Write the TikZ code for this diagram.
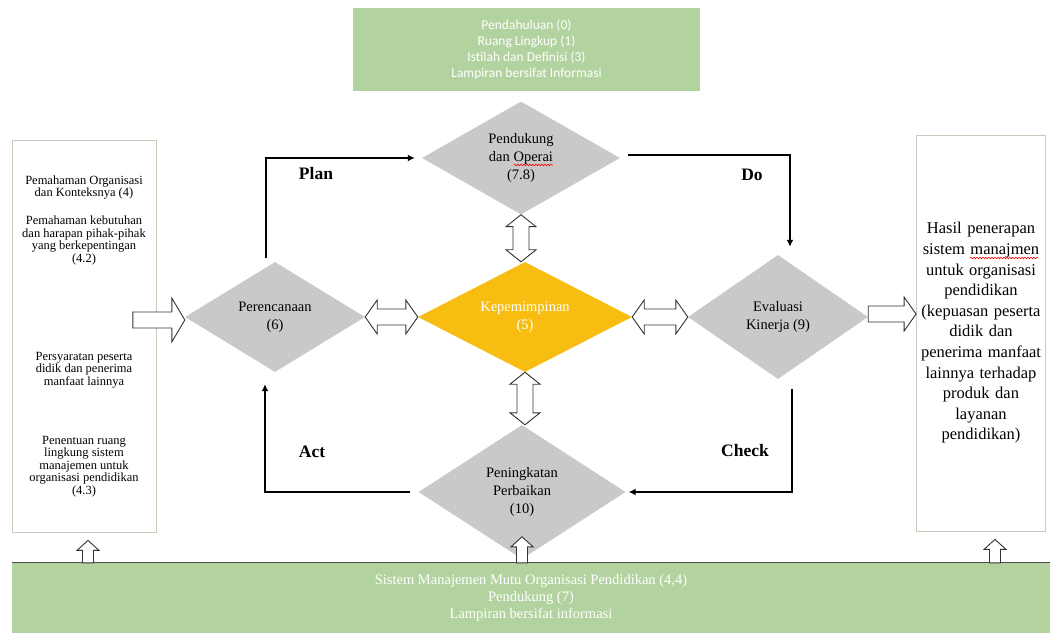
\documentclass[tikz,border=0pt]{standalone}
\usepackage{fontspec}
\setmainfont{Liberation Serif}
\newfontfamily\carl{Carlito}
\usetikzlibrary{shapes.geometric,arrows.meta,calc,decorations.pathmorphing}
\definecolor{boxgreen}{RGB}{178,211,160}
\definecolor{dgray}{RGB}{201,201,201}
\definecolor{gold}{RGB}{247,189,17}
\definecolor{boxline}{RGB}{196,206,186}
% block arrows
\newcommand\dblH[2]{\draw[barrow] let \p1=(#1), \p2=(#2) in
  (\x1,\y1) -- (\x1+12bp,\y1+17bp) -- (\x1+12bp,\y1+8bp) -- (\x2-12bp,\y1+8bp) -- (\x2-12bp,\y1+17bp)
  -- (\x2,\y1) -- (\x2-12bp,\y1-17bp) -- (\x2-12bp,\y1-8bp) -- (\x1+12bp,\y1-8bp) -- (\x1+12bp,\y1-17bp) -- cycle;}
\newcommand\dblV[2]{\draw[barrow] let \p1=(#1), \p2=(#2) in
  (\x1,\y1) -- (\x1+15bp,\y1-12bp) -- (\x1+8bp,\y1-12bp) -- (\x1+8bp,\y2+12bp) -- (\x1+15bp,\y2+12bp)
  -- (\x1,\y2) -- (\x1-15bp,\y2+12bp) -- (\x1-8bp,\y2+12bp) -- (\x1-8bp,\y1-12bp) -- (\x1-15bp,\y1-12bp) -- cycle;}
\newcommand\sglR[5]{\draw[barrow] let \p1=(#1), \p2=(#2) in
  (\x1,\y1+#3) -- (\x2-#5,\y1+#3) -- (\x2-#5,\y1+#4) -- (\x2,\y1) -- (\x2-#5,\y1-#4) -- (\x2-#5,\y1-#3) -- (\x1,\y1-#3) -- cycle;}
\newcommand\sglU[5]{\draw[barrow] let \p1=(#1), \p2=(#2) in
  (\x1-#3,\y1) -- (\x1-#3,\y2-#5) -- (\x1-#4,\y2-#5) -- (\x1,\y2) -- (\x1+#4,\y2-#5) -- (\x1+#3,\y2-#5) -- (\x1+#3,\y1) -- cycle;}
\begin{document}
\begin{tikzpicture}[x=1bp,y=-1bp,
  dia/.style={diamond, inner sep=0pt, align=center, font=\fontsize{14.5bp}{18bp}\selectfont},
  graydia/.style={dia, fill=dgray},
  greenbox/.style={rectangle, fill=boxgreen, text=white, align=center, inner sep=0pt},
  sidebox/.style={rectangle, draw=boxline, line width=0.8bp, fill=white, inner sep=0pt},
  sidetext/.style={align=center, inner sep=0pt, font=\fontsize{12.5bp}{12.5bp}\selectfont},
  flow/.style={line width=1.8bp, -{Latex[length=7bp,width=7bp]}},
  lbl/.style={inner sep=0pt, font=\fontsize{17.5bp}{20bp}\selectfont\bfseries},
  barrow/.style={fill=white, draw=black!80, line width=0.9bp, line join=miter},
  spell/.style={red, line width=0.6bp, decorate, decoration={snake, amplitude=0.8bp, segment length=3bp}}]
\useasboundingbox (0,0) rectangle (1050,633);

% top box
\node[greenbox, minimum width=347bp, minimum height=83bp,
      font=\carl\fontsize{13.5bp}{16bp}\selectfont] (topbox) at (526.5,49.5)
  {Pendahuluan (0)\\Ruang Lingkup (1)\\Istilah dan Definisi (3)\\Lampiran bersifat Informasi};

% side boxes
\node[sidebox, minimum width=144bp, minimum height=392bp] (lbox) at (84,336) {};
\node[sidebox, minimum width=129bp, minimum height=396bp, text width=127bp, align=center,
      font=\fontsize{16.5bp}{20.6bp}\selectfont] (rbox) at (981,333)
  {Hasil penerapan\\sistem manajmen\\untuk organisasi\\pendidikan\\(kepuasan peserta\\didik dan\\penerima manfaat\\lainnya terhadap\\produk dan\\layanan\\pendidikan)};

\node[sidetext] (lt1) at (84,187.5) {Pemahaman Organisasi\\dan Konteksnya (4)};
\node[sidetext] (lt2) at (84,240.5) {Pemahaman kebutuhan\\dan harapan pihak-pihak\\yang berkepentingan\\(4.2)};
\node[sidetext] (lt3) at (84,370) {Persyaratan peserta\\didik dan penerima\\manfaat lainnya};
\node[sidetext] (lt4) at (84,466.5) {Penentuan ruang\\lingkung sistem\\manajemen untuk\\organisasi pendidikan\\(4.3)};

% diamonds
\node[graydia, minimum width=198bp, minimum height=113bp, aspect=1.75] (pend) at (521,158)
  {Pendukung\\dan Operai\\(7.8)};
\node[graydia, minimum width=180bp, minimum height=110bp, aspect=1.64] (pere) at (275,317)
  {Perencanaan\\(6)};
\node[dia, fill=gold, text=white, minimum width=214bp, minimum height=110bp, aspect=1.95] (kep) at (525,317)
  {Kepemimpinan\\(5)};
\node[graydia, minimum width=180bp, minimum height=124bp, aspect=1.45] (eval) at (778,317)
  {Evaluasi\\Kinerja (9)};
\node[graydia, minimum width=207bp, minimum height=134bp, aspect=1.54] (pen) at (522,492)
  {Peningkatan\\Perbaikan\\(10)};

% spell-check squiggles
\draw[spell] (514,165) -- (553,165);
\draw[spell] (970,258) -- (1038,258);

% PDCA connectors
\draw[flow] ([shift={(-9bp,4bp)}]pere.north) |- ([xshift=-7bp]pend.west);
\draw[flow] ([shift={(8bp,3bp)}]pend.east) -| ([shift={(12bp,8bp)}]eval.north);
\draw[flow] ([shift={(14bp,-10bp)}]eval.south) |- ([xshift=3bp]pen.east);
\draw[flow] ([xshift=-8bp]pen.west) -| ([shift={(-10bp,-12bp)}]pere.south);

\node[lbl] (plan) at (316,174) {Plan};
\node[lbl] (do) at (752,175) {Do};
\node[lbl] (act) at (312,452) {Act};
\node[lbl] (check) at (745,451) {Check};

% block arrows
\dblH{pere.east}{kep.west}
\dblH{kep.east}{eval.west}
\dblV{pend.south}{kep.north}
\dblV{kep.south}{pen.north}
\sglR{$(pere.west)+(-52bp,-3bp)$}{$(pere.west)+(0,-3bp)$}{8bp}{22bp}{13bp}
\sglR{$(eval.east)+(0,3bp)$}{$(eval.east -| rbox.west)+(0,3bp)$}{8bp}{17bp}{12bp}

% bottom box
\node[greenbox, minimum width=1038bp, minimum height=70bp,
      font=\fontsize{14.5bp}{17bp}\selectfont] (bbox) at (531,598)
  {Sistem Manajemen Mutu Organisasi Pendidikan (4,4)\\Pendukung (7)\\Lampiran bersifat informasi};
\draw[black!70, line width=1bp] (bbox.north west) -- (bbox.north east);

\sglU{$(lbox.south |- bbox.north)+(4bp,0)$}{$(lbox.south)+(4bp,-8bp)$}{5.5bp}{11bp}{10bp}
\sglU{pen.south |- bbox.north}{$(pen.south |- bbox.north)+(0,26bp)$}{5.5bp}{11bp}{10bp}
\sglU{$(rbox.south |- bbox.north)+(14bp,0)$}{$(rbox.south)+(14bp,-8bp)$}{5.5bp}{11bp}{10bp}
\end{tikzpicture}
\end{document}
